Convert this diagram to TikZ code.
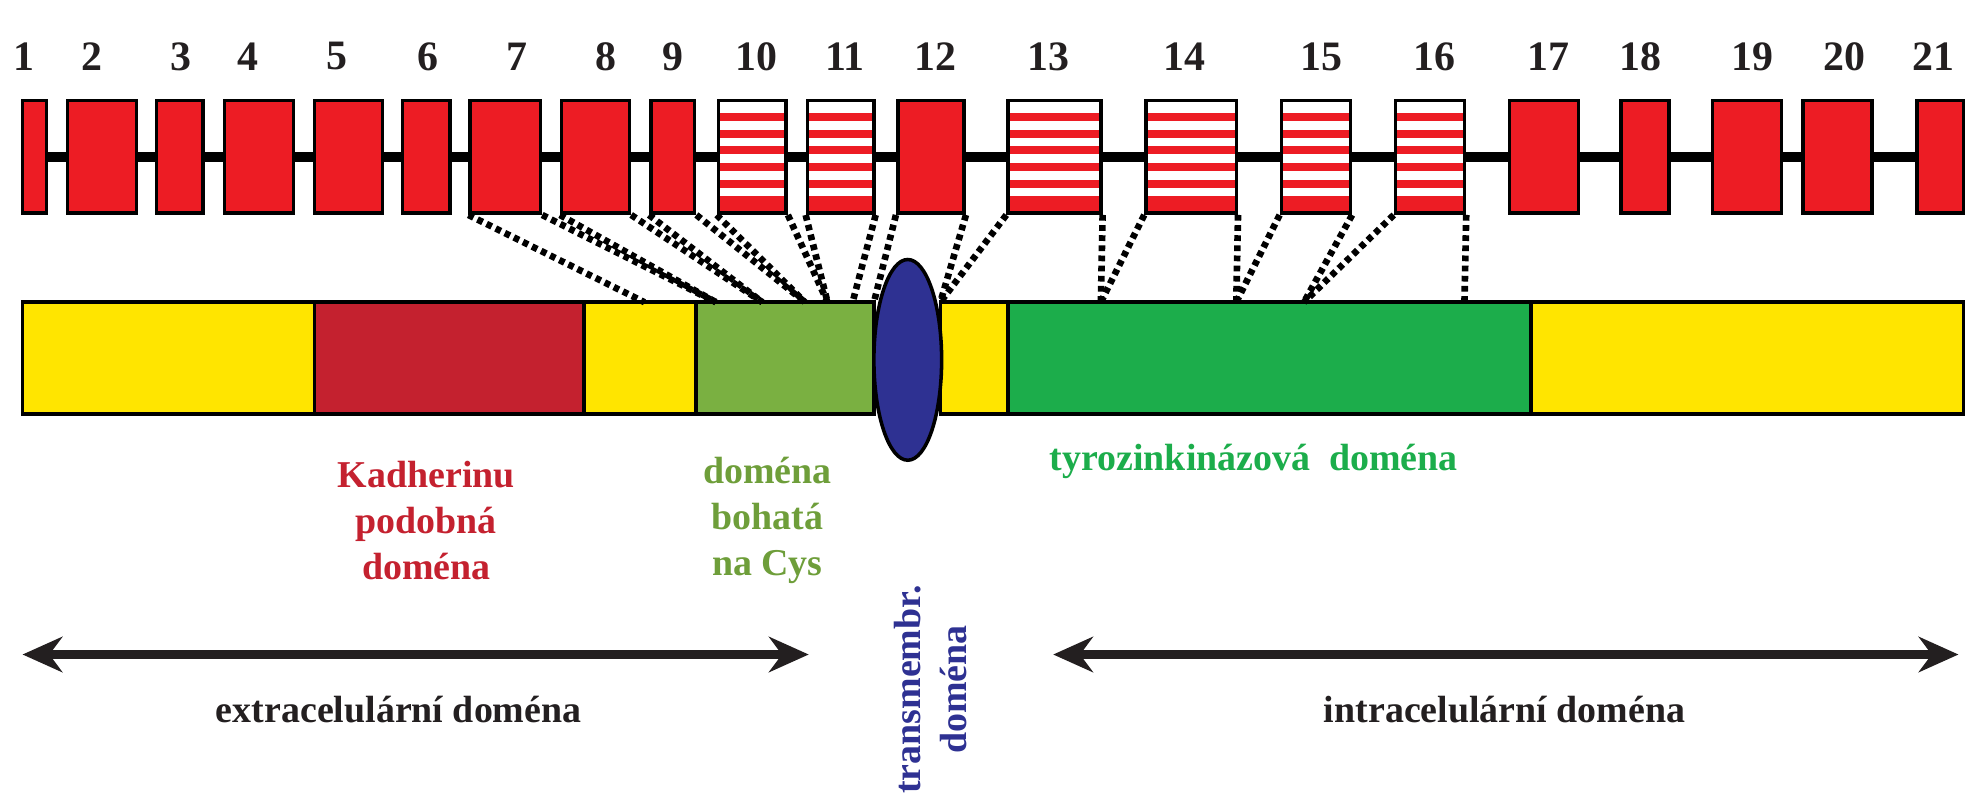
\documentclass[tikz,border=0pt]{standalone}
\usepackage{fontspec}
\setmainfont{Liberation Serif}
\usetikzlibrary{shapes.geometric, arrows.meta}
\definecolor{exred}{HTML}{ED1C24}
\definecolor{kadred}{HTML}{C4212F}
\definecolor{dyellow}{HTML}{FFE500}
\definecolor{cysgreen}{HTML}{7AB041}
\definecolor{tkgreen}{HTML}{1CAD4B}
\definecolor{tmblue}{HTML}{2E3192}
\definecolor{txtdark}{HTML}{231F20}

\tikzset{
  exon/.style = {draw, line width=0.8pt, fill=exred, rectangle, inner sep=0pt, minimum height=0.9cm},
  striped/.style = {draw, line width=0.8pt, fill=white, rectangle, inner sep=0pt, minimum height=0.9cm,
    path picture={
      \foreach \k in {0,...,5}
        \fill[exred] ([yshift=-0.1cm-\k*0.133cm]path picture bounding box.north west) rectangle
                     ([yshift=-0.165cm-\k*0.133cm]path picture bounding box.north east);
      \fill[exred] (path picture bounding box.south west) rectangle ([yshift=0.12cm]path picture bounding box.south east);
    }},
  num/.style = {font=\fontsize{9.5}{12}\selectfont\bfseries, text=txtdark},
  seg/.style = {draw, line width=0.8pt, rectangle, inner sep=0pt, minimum height=0.89cm},
  link/.style = {line width=1.5pt, dash pattern=on 1.3pt off 1pt},
  lbl/.style = {font=\fontsize{8.6}{10.5}\selectfont\bfseries, align=center},
  span/.style = {line width=2.2pt, {Stealth[length=9pt,width=8pt]}-{Stealth[length=9pt,width=8pt]}},
}

\begin{document}
\begin{tikzpicture}[x=0.01cm, y=-0.01cm]
\useasboundingbox (0,0) rectangle (1568,638);

% backbone of the gene
\draw[line width=2.3pt] (25,125) -- (1550,125);

% exons: number / left / right / label x / style
\foreach \n/\l/\r/\t/\s in {1/18/37/19/exon, 2/54/109/73/exon, 3/125/162/144/exon, 4/179/234/198/exon,
  5/251/305/269/exon, 6/321/359/341/exon, 7/375/431/412/exon, 8/448/502/483/exon, 9/519/554/537/exon,
  10/573/627/603/striped, 11/644/697/674/striped, 12/716/769/746/exon, 13/804/878/836/striped,
  14/914/986/945/striped, 15/1022/1077/1054/striped, 16/1113/1168/1144/striped, 17/1204/1259/1235/exon,
  18/1293/1331/1308/exon, 19/1366/1421/1398/exon, 20/1438/1493/1471/exon, 21/1529/1566/1542/exon}{
  \pgfmathsetmacro{\w}{(\r-\l)*0.01}
  \node[\s, minimum width=\w cm] (e\n) at ({(\l+\r)/2},125) {};
  \node[num] (n\n) at (\t,45) {\n};
}

% protein domains
\node[seg, fill=dyellow, minimum width=2.33cm] (d1) at (134.5,285.5) {};
\node[seg, fill=kadred, minimum width=2.15cm] (d2) at (358.5,285.5) {};
\node[seg, fill=dyellow, minimum width=0.89cm] (d3) at (510.5,285.5) {};
\node[seg, fill=cysgreen, minimum width=1.42cm] (d4) at (626,285.5) {};
\node[seg, fill=dyellow, minimum width=0.54cm] (d5) at (777,285.5) {};
\node[seg, fill=tkgreen, minimum width=4.17cm] (d6) at (1012.5,285.5) {};
\node[seg, fill=dyellow, minimum width=3.45cm] (d7) at (1393.5,285.5) {};
\node[ellipse, draw, line width=0.8pt, fill=tmblue, minimum width=0.54cm, minimum height=1.6cm, inner sep=0pt] (tm) at (724,287) {};

% exon to domain links
\foreach \n/\c/\x in {7/south west/514, 7/south east/571, 8/south west/571, 8/south east/608,
  9/south west/608, 9/south east/642, 10/south west/642, 10/south east/660, 11/south west/660,
  11/south east/680, 12/south west/697, 12/south east/750, 13/south west/750, 13/south east/878,
  14/south west/878, 14/south east/986, 15/south west/986, 15/south east/1040,
  16/south west/1040, 16/south east/1168}{
  \coordinate (b\n\x) at (\x,241);
  \draw[link] (e\n.\c) -- (b\n\x);
}

% labels
\node[lbl, text=kadred] (kad) at (340,415) {Kadherinu\\podobná\\doména};
\node[lbl, text=cysgreen!90!black] (cys) at (612,415) {doména\\bohatá\\na Cys};
\node[lbl, text=tkgreen] (tk) at (1000,368) {tyrozinkinázová\ \ doména};
\node[lbl, text=tmblue, rotate=90] (tml) at (742,550) {transmembr.\\doména};

% extra- and intracellular parts
\coordinate (xl) at (18,522);
\coordinate (xr) at (645,522);
\coordinate (il) at (840,522);
\coordinate (ir) at (1562,522);
\draw[span, txtdark] (xl) -- (xr);
\draw[span, txtdark] (il) -- (ir);
\node[lbl, text=txtdark] (ext) at (318,566) {extracelulární doména};
\node[lbl, text=txtdark] (int) at (1200,566) {intracelulární doména};
\end{tikzpicture}
\end{document}
